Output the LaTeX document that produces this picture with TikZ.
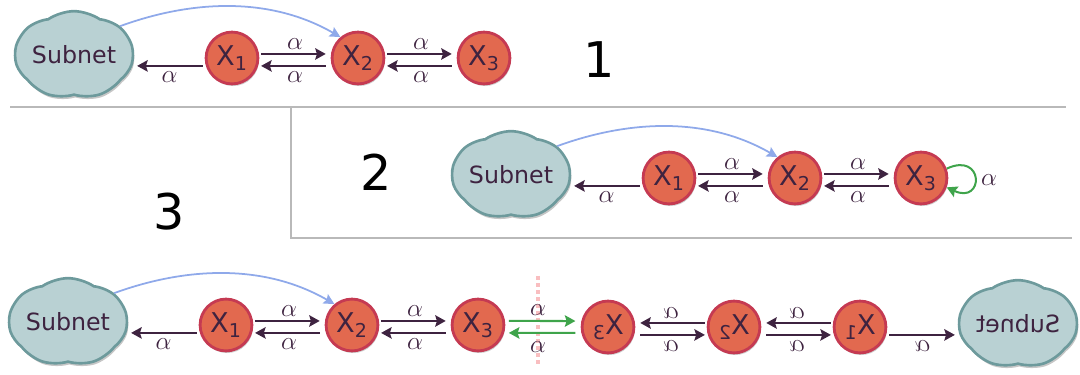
\documentclass[tikz,border=0pt]{standalone}
\usepackage{fontspec}
\setmainfont{DejaVu Sans}
\usetikzlibrary{arrows.meta,shapes.symbols,shadows}
\definecolor{statefill}{HTML}{E2694F}
\definecolor{stateline}{HTML}{C53A52}
\definecolor{cloudfill}{HTML}{B9D1D3}
\definecolor{cloudline}{HTML}{6D9A9C}
\definecolor{flowcol}{HTML}{3E2340}
\definecolor{bluecol}{HTML}{8FA9EA}
\definecolor{greencol}{HTML}{3FA44B}
\definecolor{framecol}{HTML}{B9B9B9}
\definecolor{mirrorcol}{HTML}{F9BEC0}
\tikzset{
  state/.style={circle, draw=stateline, fill=statefill, line width=1.6pt, minimum size=29.5pt,
    inner sep=0pt, text=flowcol, font=\fontsize{15.5}{15.5}\selectfont,
    drop shadow={shadow xshift=0.6pt, shadow yshift=-1.2pt, opacity=0.4}},
  subnet/.style={cloud, cloud puffs=7, cloud puff arc=70, aspect=1.5, draw=cloudline, fill=cloudfill,
    line width=1.5pt, minimum width=64pt, minimum height=41pt, inner sep=0pt, text=flowcol,
    font=\fontsize{13.5}{13.5}\selectfont,
    drop shadow={shadow xshift=0.8pt, shadow yshift=-1.6pt, opacity=0.45}},
  flow/.style={draw=flowcol, line width=1.15pt, shorten <=1pt, shorten >=2.8pt, >={Stealth[length=6pt,width=6.5pt,inset=1pt]}},
  greenflow/.style={draw=greencol, line width=1.15pt, >={Stealth[length=6pt,width=6.5pt,inset=1pt]}},
  jump/.style={draw=bluecol, line width=1pt, ->, >={Stealth[length=6pt,width=6pt,inset=1pt]}},
  rate/.style={inner sep=0pt, text=flowcol, font=\fontsize{15.5}{15.5}\selectfont},
  bignum/.style={inner sep=0pt, text=black, font=\fontsize{28}{28}\selectfont},
  frameline/.style={draw=framecol, line width=1.7pt},
  mirrorline/.style={draw=mirrorcol, line width=2pt, dash pattern=on 2pt off 2pt}
}
\begin{document}
\begin{tikzpicture}[x=0.02cm,y=-0.02cm]
  \useasboundingbox (0,0) rectangle (1080,375);

  % frame of the second panel
  \draw[frameline] (10,107) -- (1066,107);
  \draw[frameline] (291,107) -- (291,238) -- (1072,238);

  % d is the third row seen in the mirror
  \foreach \r/\dx/\dy/\fx in {a/0/0/1, b/437/120/1, c/-6/267/1, d/1092/269/-1}
  {
    \begin{scope}[shift={(\dx,\dy)}, xscale=\fx, transform shape]
      \node[subnet] (\r0) at (74,55) {\raisebox{-1pt}{Subnet}};
      \foreach \i/\x in {1/232, 2/358, 3/484}
      {
        \node[state] (\r\i) at (\x,58) {X\textsubscript{\i}};
      }
      \foreach \i/\j in {1/2, 2/3}
      {
        \draw[flow,->] ([yshift=2.3pt]\r\i.east) -- ([yshift=2.3pt]\r\j.west)
          node[rate, midway, above=2.2pt] (\r u\i) {$\alpha$};
        \draw[flow,<-] ([yshift=-4.5pt]\r\i.east) -- ([yshift=-4.5pt]\r\j.west)
          node[rate, midway, below=2.6pt] (\r l\i) {$\alpha$};
      }
      \draw[flow,->,shorten >=1.5pt] ([yshift=-4.5pt]\r1.west) -- ([yshift=-4.5pt]\r1.west -| \r0.east)
        node[rate, midway, below=2.6pt] (\r s) {$\alpha$};
    \end{scope}
  }

  % jumps out of the subnet
  \foreach \r in {a,b,c}
  {
    \draw[jump] (\r0.32) to[out=20, in=150, looseness=0.92] (\r2.130);
  }

  % self loop of the second panel
  \draw[greenflow,->] (b3.20) to[out=25, in=-25, looseness=5.7] (b3.-20);
  \node[rate] (bself) at (989,180) {$\alpha$};

  % mirror between the two halves of the third row
  \coordinate (mtop) at (538,276);
  \coordinate (mbot) at (538,367);
  \draw[mirrorline] (mtop) -- (mbot);
  \draw[greenflow,->,shorten <=2pt,shorten >=3pt] ([yshift=2.3pt]c3.east) -- ([yshift=3.4pt]d3.east);
  \draw[greenflow,<-,shorten <=2pt,shorten >=3pt] ([yshift=-4.5pt]c3.east) -- ([yshift=-3.4pt]d3.east);
  \node[rate] (mup) at (538,310) {$\alpha$};
  \node[rate] (mdn) at (538,347) {$\alpha$};

  \node[bignum] (one) at (599,60) {1};
  \node[bignum] (two) at (376,172) {2};
  \node[bignum] (three) at (169,212) {3};
\end{tikzpicture}
\end{document}
